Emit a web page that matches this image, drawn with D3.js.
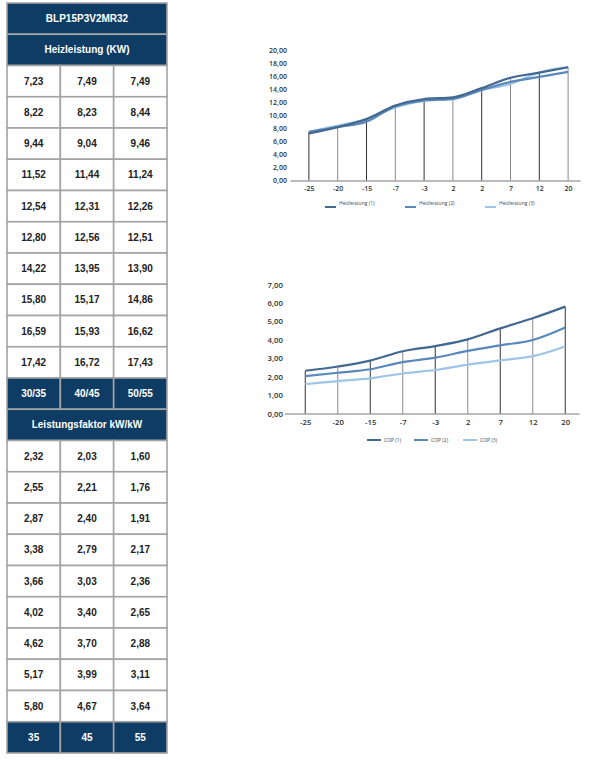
<!DOCTYPE html>
<html>
<head>
<meta charset="utf-8">
<script src="https://cdn.jsdelivr.net/npm/d3@7/dist/d3.min.js"></script>
<style>
  body { margin: 0; background: #fff; }
  svg { display: block; }
</style>
</head>
<body>
<svg id="vis" width="590" height="777"></svg>
<script>
// --- data ---
const modelName = 'BLP15P3V2MR32';
const heatTitle = 'Heizleistung (KW)';
const copTitle = 'Leistungsfaktor kW/kW';
const heatTemps = ['30/35', '40/45', '50/55'];
const copTemps = ['35', '45', '55'];

const heatCategories = ['-25', '-20', '-15', '-7', '-3', '2', '2', '7', '12', '20'];
const heat1 = [7.23, 8.22, 9.44, 11.52, 12.54, 12.80, 14.22, 15.80, 16.59, 17.42];
const heat2 = [7.49, 8.23, 9.04, 11.44, 12.31, 12.56, 13.95, 15.17, 15.93, 16.72];
const heat3 = [7.49, 8.44, 9.46, 11.24, 12.26, 12.51, 13.90, 14.86, 16.62, 17.43];
const heatLegend = ['Heizleistung (1)', 'Heizleistung (2)', 'Heizleistung (3)'];
const heatTicks = [0, 2, 4, 6, 8, 10, 12, 14, 16, 18, 20];

const copCategories = ['-25', '-20', '-15', '-7', '-3', '2', '7', '12', '20'];
const cop1 = [2.32, 2.55, 2.87, 3.38, 3.66, 4.02, 4.62, 5.17, 5.80];
const cop2 = [2.03, 2.21, 2.40, 2.79, 3.03, 3.40, 3.70, 3.99, 4.67];
const cop3 = [1.60, 1.76, 1.91, 2.17, 2.36, 2.65, 2.88, 3.11, 3.64];
const copLegend = ['COP (1)', 'COP (2)', 'COP (3)'];
const copTicks = [0, 1, 2, 3, 4, 5, 6, 7];

const seriesColors = ['#42688f', '#5a88bb', '#9fc5e6'];
const navy = '#0f3c64';

const vis = d3.select('#vis');
const fmt = v => d3.format('.2f')(v).replace('.', ',');

// --- table ---
// each row: {cells: [...], dark: bool}; a single cell spans all columns
const tableRows = [];
tableRows.push({cells: [modelName], dark: true});
tableRows.push({cells: [heatTitle], dark: true});
heat1.forEach((d, i) => tableRows.push({cells: [heat1[i], heat2[i], heat3[i]].map(fmt), dark: false}));
tableRows.push({cells: heatTemps, dark: true});
tableRows.push({cells: [copTitle], dark: true});
cop1.forEach((d, i) => tableRows.push({cells: [cop1[i], cop2[i], cop3[i]].map(fmt), dark: false}));
tableRows.push({cells: copTemps, dark: true});

const tableX = d3.scaleLinear().domain([0, 3]).range([7, 167]);
const tableY = d3.scaleLinear().domain([0, tableRows.length]).range([3, 753]);

const cells = [];
tableRows.forEach((row, r) => {
  const span = row.cells.length === 1 ? 3 : 1;
  row.cells.forEach((txt, c) => {
    cells.push({txt, r, c0: c * span, c1: c * span + span, dark: row.dark});
  });
});

const table = vis.append('g').classed('table', true);
const cell = table.selectAll('g.cell').data(cells).enter().append('g').classed('cell', true);
cell.append('rect')
  .attr('x', d => tableX(d.c0))
  .attr('y', d => tableY(d.r))
  .attr('width', d => tableX(d.c1) - tableX(d.c0))
  .attr('height', d => tableY(d.r + 1) - tableY(d.r))
  .attr('fill', d => d.dark ? navy : '#fff')
  .attr('stroke', '#a3a3a3')
  .attr('stroke-width', 1.6);
cell.append('text')
  .attr('x', d => (tableX(d.c0) + tableX(d.c1)) / 2)
  .attr('y', d => (tableY(d.r) + tableY(d.r + 1)) / 2)
  .attr('dy', '0.36em')
  .attr('text-anchor', 'middle')
  .attr('font-family', 'Liberation Sans, Arial, sans-serif')
  .attr('font-weight', 'bold')
  .attr('font-size', 10)
  .attr('fill', d => d.dark ? '#fff' : '#222')
  .text(d => d.txt);

// --- line charts ---
function drawChart(opts) {
  const g = vis.append('g').classed('chart', true);
  const x = d3.scalePoint().domain(d3.range(opts.categories.length)).range(opts.xRange).padding(0.5);
  const y = d3.scaleLinear().domain([0, opts.yMax]).range(opts.yRange);

  // drop lines from highest series to axis
  g.selectAll('line.drop').data(opts.categories).enter().append('line')
    .classed('drop', true)
    .attr('x1', (d, i) => x(i)).attr('x2', (d, i) => x(i))
    .attr('y1', y(0))
    .attr('y2', (d, i) => y(d3.max(opts.series, s => s[i])))
    .attr('stroke', (d, i) => i % 2 ? '#8a8a8a' : '#333')
    .attr('stroke-width', 1);

  // x axis line
  g.append('line')
    .attr('x1', opts.xRange[0] - 4).attr('x2', opts.xRange[1] - 2)
    .attr('y1', y(0) + 0.5).attr('y2', y(0) + 0.5)
    .attr('stroke', '#777').attr('stroke-width', 1);

  // y axis labels
  const yAxis = d3.axisLeft(y).tickValues(opts.ticks).tickSize(0).tickPadding(0).tickFormat(fmt);
  const ya = g.append('g').attr('transform', `translate(${opts.yLabelX},0)`).call(yAxis);
  ya.select('.domain').remove();
  ya.selectAll('text')
    .attr('font-family', 'Open Sans, sans-serif')
    .attr('font-weight', 600)
    .attr('font-size', opts.fontSize)
    .attr('fill', '#333');

  // x tick labels
  const xAxis = d3.axisBottom(x).tickSize(0).tickPadding(0).tickFormat(i => opts.categories[i]);
  const xa = g.append('g').attr('transform', `translate(0,${opts.xLabelY})`).call(xAxis);
  xa.select('.domain').remove();
  xa.selectAll('text')
    .attr('font-family', 'Open Sans, sans-serif')
    .attr('font-weight', 600)
    .attr('font-size', opts.fontSize)
    .attr('fill', '#333');

  // series lines
  const line = d3.line().x((d, i) => x(i)).y(d => y(d)).curve(d3.curveMonotoneX);
  g.selectAll('path.series').data(opts.series.slice().reverse()).enter().append('path')
    .classed('series', true)
    .attr('d', line)
    .attr('fill', 'none')
    .attr('stroke', (d, i) => seriesColors[opts.series.length - 1 - i])
    .attr('stroke-width', 2.2)
    .attr('stroke-linejoin', 'round');

  // legend
  const lg = g.selectAll('g.legend').data(opts.legend).enter().append('g')
    .classed('legend', true)
    .attr('transform', (d, i) => `translate(${opts.legendX[i]},${opts.legendY})`);
  lg.append('line')
    .attr('x1', 0).attr('x2', opts.swatch)
    .attr('y1', opts.swatchDy).attr('y2', opts.swatchDy)
    .attr('stroke', (d, i) => seriesColors[i])
    .attr('stroke-width', 2);
  lg.append('text')
    .attr('x', opts.swatch + 3)
    .attr('y', 0)
    .attr('dy', '0.35em')
    .attr('font-family', 'Open Sans, sans-serif')
    .attr('font-size', 5)
    .attr('fill', '#444')
    .text(d => d);
}

drawChart({
  categories: heatCategories,
  series: [heat1, heat2, heat3],
  legend: heatLegend,
  ticks: heatTicks,
  yMax: 20,
  xRange: [294.5, 582.5],
  yRange: [180.5, 50.5],
  yLabelX: 287,
  xLabelY: 186,
  legendX: [325, 405, 485],
  legendY: 203,
  swatch: 11,
  swatchDy: 4,
  fontSize: 7
});

drawChart({
  categories: copCategories,
  series: [cop1, cop2, cop3],
  legend: copLegend,
  ticks: copTicks,
  yMax: 7,
  xRange: [289, 581.5],
  yRange: [413.5, 284.5],
  yLabelX: 283,
  xLabelY: 419,
  legendX: [367, 414, 463],
  legendY: 440,
  swatch: 14,
  swatchDy: 0,
  fontSize: 7.8
});
</script>
</body>
</html>
